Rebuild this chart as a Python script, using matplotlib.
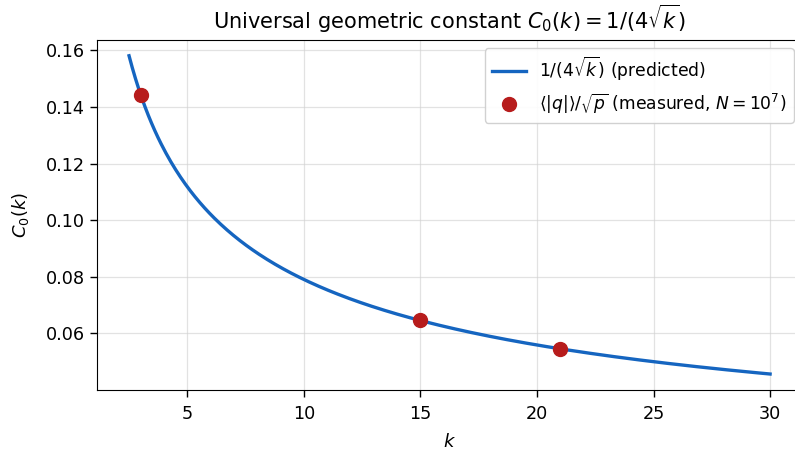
import numpy as np
import matplotlib
matplotlib.use("Agg")
import matplotlib.pyplot as plt

k_min, k_max = 2.5, 30
k_measured = [3, 15, 21]
c_measured = [0.1444, 0.0646, 0.0546]

k_curve = np.linspace(k_min, k_max, 400)
c_curve = 1.0 / (4.0 * np.sqrt(k_curve))

fig = plt.figure(figsize=(7.95, 4.54), dpi=100)
ax = fig.add_axes([0.122, 0.141, 0.887, 0.771])
ax.plot(k_curve, c_curve, color="#1565C0", lw=2.4, label=r"$1/(4\sqrt{k})$ (predicted)", zorder=2)
ax.plot(k_measured, c_measured, "o", color="#B71C1C", ms=10, label=r"$\langle|q|\rangle/\sqrt{p}$ (measured, $N=10^7$)", zorder=3)
ax.set_xlim(1.125, 31.375)
ax.set_ylim(0.0400, 0.1637)
ax.set_xticks([5, 10, 15, 20, 25, 30])
ax.set_yticks([0.06, 0.08, 0.10, 0.12, 0.14, 0.16])
ax.grid(True, color="#d0d0d0", alpha=0.6, lw=0.9)
ax.spines["right"].set_visible(False)
ax.tick_params(labelsize=12.7, length=5, width=1)
ax.tick_params(axis="x", pad=6)
ax.set_xlabel(r"$k$", fontsize=13, labelpad=7)
ax.set_ylabel(r"$C_0(k)$", fontsize=13, labelpad=11)
ax.set_title(r"Universal geometric constant $C_0(k)=1/(4\sqrt{k})$", fontsize=15, pad=8)
ax.legend(loc="upper right", fontsize=12.3, framealpha=0.9)
fig.savefig("out.png", dpi=100)
